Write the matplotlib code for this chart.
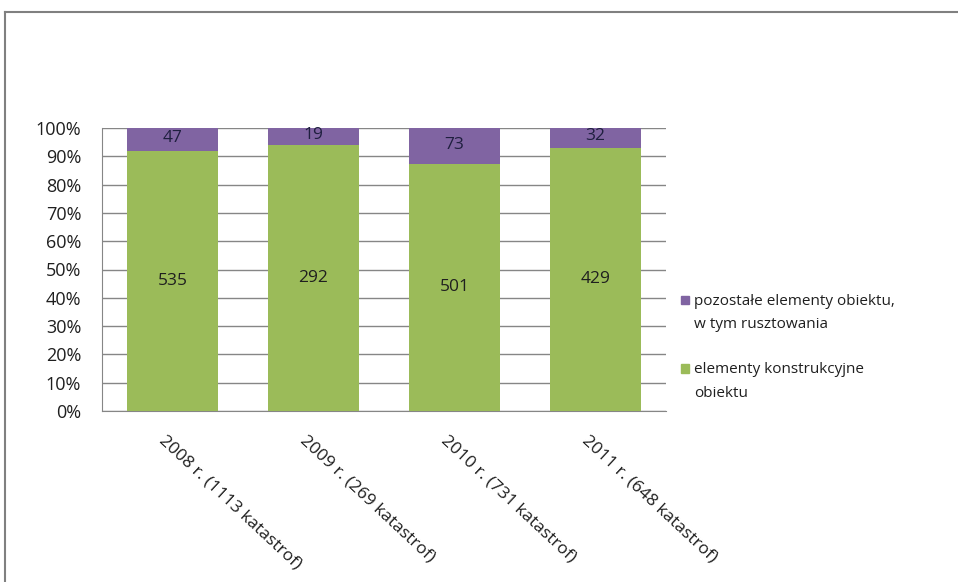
import matplotlib
matplotlib.use("Agg")
import matplotlib.pyplot as plt
from matplotlib.lines import Line2D
from matplotlib.patches import Rectangle
from matplotlib.legend_handler import HandlerPatch
import numpy as np

categories = ["2008 r. (1113 katastrof)", "2009 r. (269 katastrof)",
              "2010 r. (731 katastrof)", "2011 r. (648 katastrof)"]
konstrukcyjne = [535, 292, 501, 429]
pozostale = [47, 19, 73, 32]
label_konstr = "elementy konstrukcyjne\nobiektu"
label_pozost = "pozostałe elementy obiektu,\nw tym rusztowania"

green = "#9BBB59"
purple = "#8064A2"

plt.rcParams['font.family'] = ['Open Sans', 'DejaVu Sans']

fig = plt.figure(figsize=(9.58, 5.82), dpi=100)
W, H = 958, 582
ax = fig.add_axes([102 / W, 1 - 411 / H, (666 - 102) / W, (411 - 128) / H])

k = np.array(konstrukcyjne, float)
p = np.array(pozostale, float)
tot = k + p
kp = k / tot
pp = p / tot
x = np.arange(len(categories))
bw = 0.64
b1 = ax.bar(x, kp, bw, color=green, label=label_konstr, zorder=3)
b2 = ax.bar(x, pp, bw, bottom=kp, color=purple, label=label_pozost, zorder=3)

for i in range(len(x)):
    ax.text(x[i], kp[i] * 0.5, str(konstrukcyjne[i]), ha='center', va='center',
            fontsize=12.5, color='#1f1f1f', zorder=4)
    ax.text(x[i], kp[i] + pp[i] * 0.5 + 0.005, str(pozostale[i]), ha='center', va='center',
            fontsize=12.5, color='#1f1f3f', zorder=4)

ax.set_xlim(-0.5, len(x) - 0.5)
ax.set_ylim(0, 1)
ax.set_yticks(np.arange(0, 1.01, 0.1))
ax.set_yticklabels([f"{int(round(v*100))}%" for v in np.arange(0, 1.01, 0.1)], fontsize=13)
ax.yaxis.grid(True, color='#868686', lw=1, zorder=0)
ax.tick_params(axis='y', length=0, pad=15, colors='#1f1f1f')
ax.tick_params(axis='x', length=0)
ax.set_xticks(x)
ax.set_xticklabels([])
for i, c in enumerate(categories):
    ax.text(x[i] - 0.08, -0.095, c, rotation=-43, rotation_mode='anchor',
            ha='left', va='center', fontsize=12.5, color='#1f1f1f',
            transform=ax.get_xaxis_transform())
for s in ['top', 'right']:
    ax.spines[s].set_visible(False)
for s in ['left', 'bottom']:
    ax.spines[s].set_color('#868686')


def top_square(legend, orig_handle, xdescent, ydescent, width, height, fontsize):
    s = 6.0
    return Rectangle((-xdescent, -ydescent + height / 2 - s / 2 + 9.5), s, s)


h_p = Rectangle((0, 0), 1, 1, color=purple)
h_k = Rectangle((0, 0), 1, 1, color=green)
leg = ax.legend(handles=[h_p, h_k], labels=[label_pozost, label_konstr],
                loc='upper left', bbox_to_anchor=(673 / W, 1 - 286 / H),
                bbox_transform=fig.transFigure, frameon=False, fontsize=11,
                handlelength=0.6, handleheight=0.6, handletextpad=0.3,
                labelspacing=2.0, borderpad=0,
                handler_map={Rectangle: HandlerPatch(patch_func=top_square)})
for t in leg.get_texts():
    t.set_linespacing(1.75)
    t.set_color('#1f1f1f')

fig.add_artist(Line2D([5 / W, 1], [1 - 12 / H, 1 - 12 / H], color='#808080', lw=1.5,
                      transform=fig.transFigure))
fig.add_artist(Line2D([5 / W, 5 / W], [1 - 12 / H, 0], color='#808080', lw=1.5,
                      transform=fig.transFigure))

fig.savefig("out.png", dpi=100)
